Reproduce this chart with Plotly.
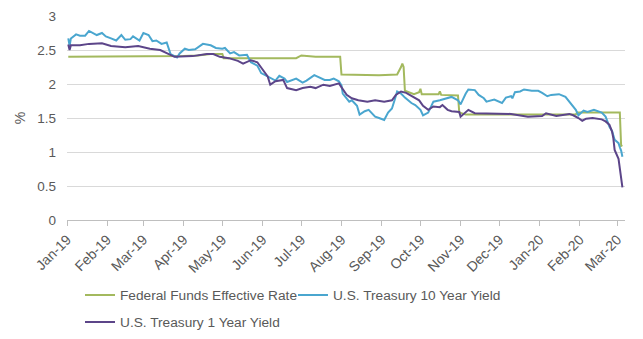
import plotly.graph_objects as go

# ---------------- data ----------------
series_names = ["Federal Funds Effective Rate", "U.S. Treasury 10 Year Yield", "U.S. Treasury 1 Year Yield"]

ffr_dates = ["2019-01-02", "2019-03-29", "2019-04-01", "2019-04-12", "2019-04-22", "2019-05-01", "2019-05-02",
             "2019-05-31", "2019-06-27", "2019-07-01", "2019-07-05", "2019-07-12", "2019-07-31", "2019-08-01",
             "2019-08-30", "2019-09-13", "2019-09-16", "2019-09-17", "2019-09-18", "2019-09-19", "2019-09-26",
             "2019-09-30", "2019-10-01", "2019-10-02", "2019-10-15", "2019-10-16", "2019-10-17", "2019-10-30",
             "2019-10-31", "2019-11-05", "2020-01-29", "2020-01-30", "2020-03-03", "2020-03-04", "2020-03-05"]
ffr_vals = [2.40, 2.40, 2.41, 2.42, 2.44, 2.44, 2.38,
            2.38, 2.38, 2.42, 2.41, 2.40, 2.40, 2.14,
            2.13, 2.14, 2.25, 2.30, 2.25, 1.90, 1.85,
            1.88, 1.93, 1.85, 1.85, 1.89, 1.84, 1.83,
            1.58, 1.55, 1.55, 1.58, 1.58, 1.09, 1.10]

t10_dates = ["2019-01-02", "2019-01-03", "2019-01-04", "2019-01-08", "2019-01-11", "2019-01-15", "2019-01-18",
             "2019-01-22", "2019-01-24", "2019-01-28", "2019-01-31", "2019-02-04", "2019-02-08", "2019-02-12",
             "2019-02-15", "2019-02-19", "2019-02-21", "2019-02-26", "2019-03-01", "2019-03-05", "2019-03-08",
             "2019-03-11", "2019-03-15", "2019-03-19", "2019-03-22", "2019-03-27", "2019-03-29", "2019-04-02",
             "2019-04-05", "2019-04-10", "2019-04-16", "2019-04-22", "2019-04-26", "2019-05-01", "2019-05-03",
             "2019-05-07", "2019-05-10", "2019-05-14", "2019-05-20", "2019-05-23", "2019-05-28", "2019-05-31",
             "2019-06-04", "2019-06-07", "2019-06-11", "2019-06-14", "2019-06-18", "2019-06-20", "2019-06-25",
             "2019-06-27", "2019-07-02", "2019-07-05", "2019-07-11", "2019-07-16", "2019-07-19", "2019-07-23",
             "2019-07-26", "2019-07-30", "2019-08-01", "2019-08-02", "2019-08-07", "2019-08-09", "2019-08-13",
             "2019-08-15", "2019-08-19", "2019-08-22", "2019-08-27", "2019-08-30", "2019-09-03", "2019-09-06",
             "2019-09-09", "2019-09-11", "2019-09-13", "2019-09-16", "2019-09-19", "2019-09-24", "2019-09-27",
             "2019-10-01", "2019-10-03", "2019-10-07", "2019-10-11", "2019-10-16", "2019-10-21", "2019-10-25",
             "2019-10-30", "2019-11-01", "2019-11-05", "2019-11-07", "2019-11-12", "2019-11-15", "2019-11-19",
             "2019-11-21", "2019-11-27", "2019-12-03", "2019-12-06", "2019-12-10", "2019-12-11", "2019-12-13",
             "2019-12-17", "2019-12-20", "2019-12-26", "2019-12-31", "2020-01-03", "2020-01-07", "2020-01-10",
             "2020-01-16", "2020-01-21", "2020-01-24", "2020-01-29", "2020-01-31", "2020-02-04", "2020-02-07",
             "2020-02-12", "2020-02-18", "2020-02-21", "2020-02-24", "2020-02-26", "2020-02-28", "2020-03-02",
             "2020-03-03", "2020-03-04", "2020-03-05"]
t10_vals = [2.67, 2.56, 2.67, 2.73, 2.71, 2.71, 2.78,
            2.74, 2.72, 2.75, 2.70, 2.67, 2.64, 2.72,
            2.65, 2.66, 2.70, 2.64, 2.75, 2.72, 2.63,
            2.64, 2.59, 2.61, 2.44, 2.39, 2.45, 2.52,
            2.50, 2.51, 2.59, 2.57, 2.53, 2.52, 2.53,
            2.45, 2.47, 2.42, 2.43, 2.32, 2.27, 2.16,
            2.12, 2.09, 2.05, 2.12, 2.08, 2.03, 2.06,
            2.08, 2.02, 2.05, 2.13, 2.08, 2.06, 2.06,
            2.08, 2.04, 1.98, 1.86, 1.74, 1.76, 1.68,
            1.55, 1.60, 1.62, 1.52, 1.50, 1.47, 1.58,
            1.64, 1.76, 1.89, 1.86, 1.80, 1.72, 1.69,
            1.62, 1.54, 1.58, 1.74, 1.76, 1.79, 1.81,
            1.76, 1.70, 1.86, 1.92, 1.91, 1.84, 1.79,
            1.74, 1.77, 1.72, 1.80, 1.82, 1.79, 1.88,
            1.89, 1.92, 1.90, 1.90, 1.87, 1.82, 1.84,
            1.85, 1.81, 1.74, 1.62, 1.54, 1.61, 1.59,
            1.62, 1.58, 1.52, 1.37, 1.31, 1.18, 1.13,
            1.07, 1.02, 0.93]

t1_dates = ["2019-01-02", "2019-01-03", "2019-01-04", "2019-01-11", "2019-01-18", "2019-01-28", "2019-02-04",
            "2019-02-15", "2019-02-25", "2019-03-06", "2019-03-14", "2019-03-19", "2019-03-25", "2019-04-08",
            "2019-04-19", "2019-04-24", "2019-04-29", "2019-05-06", "2019-05-13", "2019-05-17", "2019-05-23",
            "2019-05-28", "2019-05-31", "2019-06-05", "2019-06-07", "2019-06-11", "2019-06-17", "2019-06-20",
            "2019-06-27", "2019-07-02", "2019-07-08", "2019-07-12", "2019-07-18", "2019-07-23", "2019-07-30",
            "2019-08-05", "2019-08-09", "2019-08-14", "2019-08-21", "2019-08-27", "2019-09-03", "2019-09-09",
            "2019-09-12", "2019-09-16", "2019-09-20", "2019-09-25", "2019-09-30", "2019-10-03", "2019-10-07",
            "2019-10-11", "2019-10-16", "2019-10-18", "2019-10-22", "2019-10-25", "2019-10-31", "2019-11-01",
            "2019-11-07", "2019-11-12", "2019-11-26", "2019-12-10", "2019-12-23", "2020-01-03", "2020-01-06",
            "2020-01-14", "2020-01-24", "2020-01-27", "2020-01-31", "2020-02-03", "2020-02-06", "2020-02-11",
            "2020-02-18", "2020-02-21", "2020-02-24", "2020-02-26", "2020-02-27", "2020-02-28", "2020-03-02",
            "2020-03-03", "2020-03-04", "2020-03-05"]
t1_vals = [2.58, 2.50, 2.57, 2.57, 2.59, 2.60, 2.56,
           2.54, 2.56, 2.52, 2.50, 2.46, 2.40, 2.41,
           2.44, 2.44, 2.40, 2.38, 2.34, 2.30, 2.35,
           2.32, 2.24, 2.11, 1.99, 2.04, 2.06, 1.94,
           1.91, 1.94, 1.96, 1.94, 1.99, 1.97, 2.01,
           1.84, 1.79, 1.76, 1.74, 1.76, 1.74, 1.76,
           1.84, 1.89, 1.87, 1.82, 1.76, 1.68, 1.62,
           1.67, 1.66, 1.69, 1.62, 1.60, 1.59, 1.52,
           1.62, 1.57, 1.57, 1.56, 1.52, 1.53, 1.57,
           1.53, 1.56, 1.54, 1.50, 1.46, 1.49, 1.50,
           1.48, 1.45, 1.40, 1.30, 1.20, 1.03, 0.90,
           0.74, 0.62, 0.48]

y_ticks = [0, 0.5, 1, 1.5, 2, 2.5, 3]
y_tick_labels = ["0", "0.5", "1", "1.5", "2", "2.5", "3"]
x_range = ["2019-01-01", "2020-03-07"]

colors = ["#a3b95e", "#4aa6cf", "#5c4589"]
FONT = "Liberation Sans, Arial, sans-serif"
TXT = "#595959"

fig = go.Figure()
fig.add_trace(go.Scatter(x=ffr_dates, y=ffr_vals, name=series_names[0], mode="lines",
                         line=dict(color=colors[0], width=2), legend="legend", showlegend=True))
fig.add_trace(go.Scatter(x=t10_dates, y=t10_vals, name=series_names[1], mode="lines",
                         line=dict(color=colors[1], width=2), legend="legend2", showlegend=True))
fig.add_trace(go.Scatter(x=t1_dates, y=t1_vals, name=series_names[2], mode="lines",
                         line=dict(color=colors[2], width=2), legend="legend3", showlegend=True))

leg_common = dict(orientation="h", xanchor="left", yanchor="middle",
                  font=dict(family=FONT, size=13.7, color=TXT), bgcolor="rgba(0,0,0,0)")

fig.update_layout(
    width=643, height=339,
    showlegend=True,
    margin=dict(l=67, r=18, t=16, b=119, autoexpand=False),
    paper_bgcolor="white", plot_bgcolor="white",
    font=dict(family=FONT, color=TXT),
    legend=dict(x=0.0233, y=-0.3676, **leg_common),
    legend2=dict(x=0.405, y=-0.3676, **leg_common),
    legend3=dict(x=0.0233, y=-0.50, **leg_common),
    xaxis=dict(type="date", range=x_range, dtick="M1", tick0="2019-01-01", tickformat="%b-%y",
               tickangle=-45, tickfont=dict(family=FONT, size=14, color=TXT),
               showgrid=False, showline=True, linecolor="#bfbfbf", linewidth=1,
               ticks="outside", ticklen=5, tickcolor="#bfbfbf", zeroline=False),
    yaxis=dict(range=[0, 3], tickvals=y_ticks, ticktext=y_tick_labels,
               tickfont=dict(family=FONT, size=13.5, color=TXT),
               showgrid=True, gridcolor="#d9d9d9", gridwidth=1, zeroline=False,
               ticklabelstandoff=10,
               title=dict(text="%", font=dict(family=FONT, size=14, color=TXT), standoff=8)),
)

fig.write_html("out.html")
